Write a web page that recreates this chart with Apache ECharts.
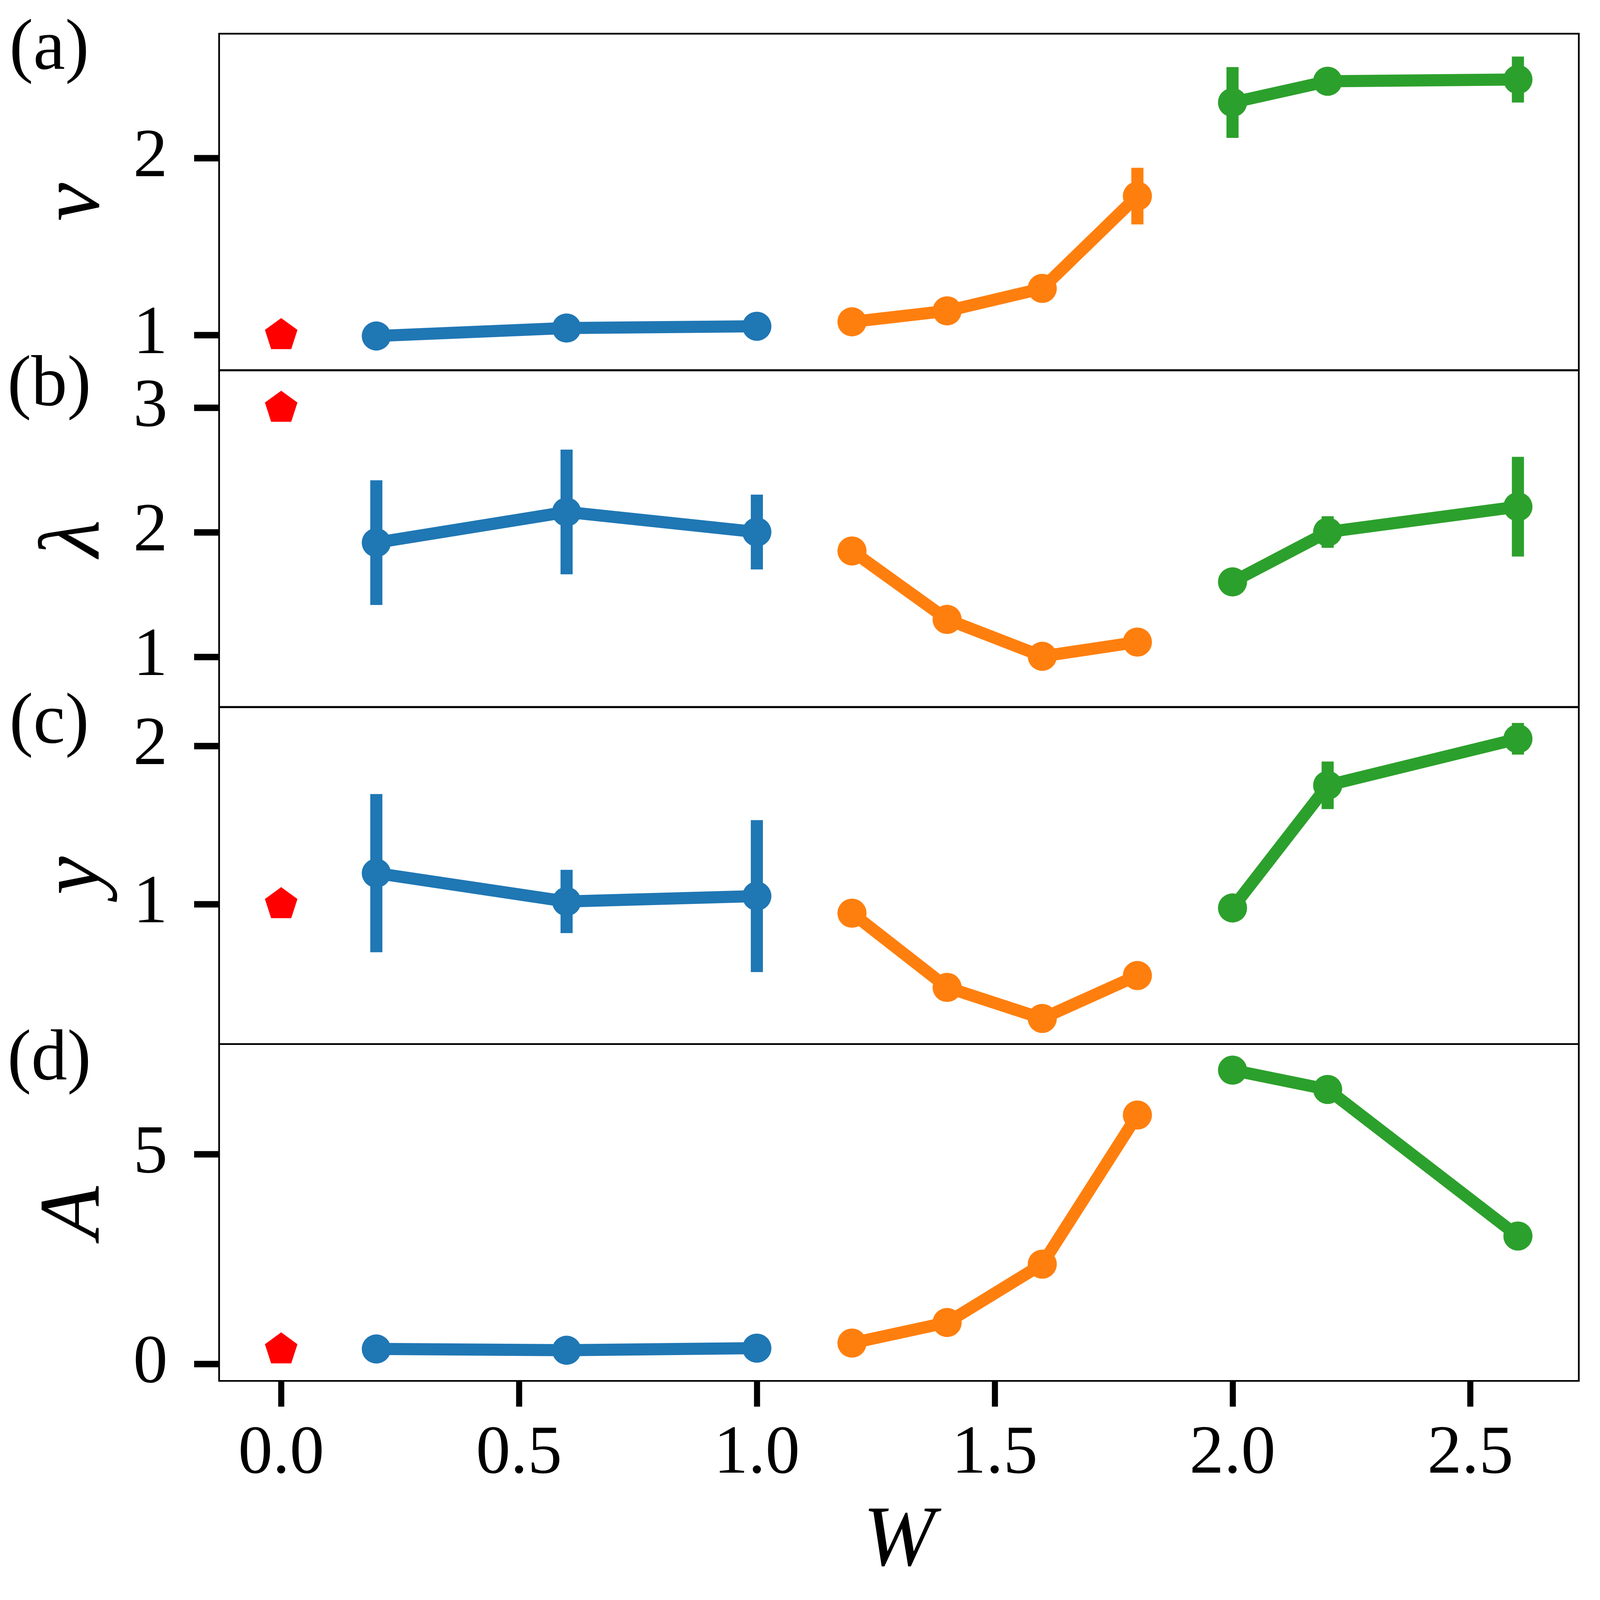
<!DOCTYPE html>
<html>
<head>
<meta charset="utf-8">
<script src="https://cdn.jsdelivr.net/npm/echarts@6.0.0/dist/echarts.min.js"></script>
<style>
  html, body { margin: 0; padding: 0; background: #fff; overflow: hidden; width: 100%; height: 100%; }
  #main { width: 100vw; height: 100vh; }
</style>
</head>
<body>
<div id="main"></div>
<script>
// W positions of each group
var wRef = [0];
var wBlue = [0.2, 0.6, 1.0];
var wOrange = [1.2, 1.4, 1.6, 1.8];
var wGreen = [2.0, 2.2, 2.6];

// (a) nu
var nuRef = [1.0];
var nuBlue = [0.995, 1.04, 1.05];
var nuOrange = [1.075, 1.137, 1.264, 1.786];
var nuGreen = [2.315, 2.435, 2.445];
var nuErrBlue = [0, 0, 0];
var nuErrOrange = [0, 0, 0, 0.16];
var nuErrGreen = [0.2, 0.05, 0.13];

// (b) lambda
var lamRef = [3.0];
var lamBlue = [1.918, 2.164, 2.003];
var lamOrange = [1.851, 1.302, 1.006, 1.12];
var lamGreen = [1.603, 2.003, 2.206];
var lamErrBlue = [0.5, 0.5, 0.3];
var lamErrOrange = [0, 0, 0, 0];
var lamErrGreen = [0, 0.127, 0.4];

// (c) y
var yRef = [1.0];
var yBlue = [1.196, 1.017, 1.051];
var yOrange = [0.943, 0.474, 0.278, 0.549];
var yGreen = [0.976, 1.751, 2.045];
var yErrBlue = [0.5, 0.2, 0.48];
var yErrOrange = [0, 0, 0, 0];
var yErrGreen = [0, 0.15, 0.1];

// (d) A
var aRef = [0.35];
var aBlue = [0.36, 0.33, 0.38];
var aOrange = [0.5, 0.99, 2.38, 5.93];
var aGreen = [7.0, 6.54, 3.05];

// ticks
var xTicks = [0, 0.5, 1.0, 1.5, 2.0, 2.5];
var nuTicks = [1, 2];
var lamTicks = [1, 2, 3];
var yTicks = [1, 2];
var aTicks = [0, 5];

var panelNames = ['ν', 'λ', 'y', 'A'];
var panelTags = ['(a)', '(b)', '(c)', '(d)'];
var yRanges = [[0.80, 2.704], [0.60, 3.302], [0.116, 2.244], [-0.40, 7.62]];
var xRange = [-0.1305, 2.728];

var FONT = '"Liberation Serif", "DejaVu Serif", serif';
var colors = { blue: '#1f77b4', orange: '#ff7f0e', green: '#2ca02c', ref: '#ff0000' };

var panels = [
  { ref: nuRef, blue: nuBlue, orange: nuOrange, green: nuGreen, eb: nuErrBlue, eo: nuErrOrange, eg: nuErrGreen, ticks: nuTicks },
  { ref: lamRef, blue: lamBlue, orange: lamOrange, green: lamGreen, eb: lamErrBlue, eo: lamErrOrange, eg: lamErrGreen, ticks: lamTicks },
  { ref: yRef, blue: yBlue, orange: yOrange, green: yGreen, eb: yErrBlue, eo: yErrOrange, eg: yErrGreen, ticks: yTicks },
  { ref: aRef, blue: aBlue, orange: aOrange, green: aGreen, eb: null, eo: null, eg: null, ticks: aTicks }
];

var el = document.getElementById('main');
// layout was measured on a 4213 x 4228 canvas; scale to the real viewport
var S = Math.min(el.clientWidth / 4213, el.clientHeight / 4228);
function px(v) { return v * S; }

var gridTops = [89, 978, 1869, 2759];
var gridH = 890;

function zip(xs, ys) {
  return xs.map(function (x, i) { return [x, ys[i]]; });
}
function zipErr(xs, ys, es) {
  var out = [];
  xs.forEach(function (x, i) { if (es[i] > 0) out.push([x, ys[i], es[i]]); });
  return out;
}

var pentagon = 'path://M0,-1 L0.9511,-0.309 L0.5878,0.809 L-0.5878,0.809 L-0.9511,-0.309 Z';

var grids = [], xAxes = [], yAxes = [], series = [], graphics = [];

panels.forEach(function (p, i) {
  var last = i === panels.length - 1;
  grids.push({ left: px(579), width: px(3593), top: px(gridTops[i]), height: px(gridH),
    show: true, borderColor: '#000', borderWidth: px(4.5), backgroundColor: 'transparent' });
  xAxes.push({
    type: 'value', gridIndex: i, min: xRange[0], max: xRange[1],
    axisLine: { show: false, onZero: false }, splitLine: { show: false },
    axisTick: { show: last, customValues: xTicks, length: px(68), lineStyle: { color: '#000', width: px(16) } },
    axisLabel: { show: last, customValues: xTicks, margin: px(104), fontSize: px(182), fontFamily: FONT, color: '#000',
      formatter: function (v) { return v.toFixed(1); } },
    name: last ? 'W' : '', nameLocation: 'middle', nameGap: px(313),
    nameTextStyle: { fontSize: px(228), fontStyle: 'italic', fontFamily: FONT, color: '#000' }
  });
  yAxes.push({
    type: 'value', gridIndex: i, min: yRanges[i][0], max: yRanges[i][1],
    axisLine: { show: false, onZero: false }, splitLine: { show: false },
    axisTick: { customValues: p.ticks, length: px(66), lineStyle: { color: '#000', width: px(17) } },
    axisLabel: { customValues: p.ticks, margin: px(136), fontSize: px(182), fontFamily: FONT, color: '#000' },
    name: panelNames[i], nameLocation: 'middle', nameGap: px(265), nameRotate: 90,
    nameTextStyle: { fontSize: px(228), fontStyle: 'italic', fontFamily: FONT, color: '#000' }
  });

  // error bars
  [['blue', p.blue, p.eb, wBlue], ['orange', p.orange, p.eo, wOrange], ['green', p.green, p.eg, wGreen]].forEach(function (g) {
    if (!g[2]) return;
    var col = colors[g[0]];
    series.push({
      type: 'custom', xAxisIndex: i, yAxisIndex: i, silent: true,
      data: zipErr(g[3], g[1], g[2]),
      renderItem: function (params, api) {
        var x = api.value(0), y = api.value(1), e = api.value(2);
        var p1 = api.coord([x, y - e]), p2 = api.coord([x, y + e]);
        return { type: 'line', shape: { x1: p1[0], y1: p1[1], x2: p2[0], y2: p2[1] },
          style: { stroke: col, lineWidth: px(32), lineCap: 'butt' } };
      },
      z: 2
    });
  });

  [['blue', p.blue, wBlue], ['orange', p.orange, wOrange], ['green', p.green, wGreen]].forEach(function (g) {
    series.push({
      type: 'line', xAxisIndex: i, yAxisIndex: i, silent: true,
      data: zip(g[2], g[1]),
      symbol: 'circle', symbolSize: px(77), showAllSymbol: true,
      itemStyle: { color: colors[g[0]], opacity: 1 },
      lineStyle: { color: colors[g[0]], width: px(32) },
      z: 3
    });
  });

  series.push({
    type: 'scatter', xAxisIndex: i, yAxisIndex: i, silent: true,
    data: zip(wRef, p.ref),
    symbol: pentagon, symbolSize: [px(86), px(82)], symbolOffset: [0, -px(4)],
    itemStyle: { color: colors.ref, opacity: 1 },
    z: 3
  });

  graphics.push({
    type: 'text', x: px(130), y: px(gridTops[i] + 43),
    style: { text: panelTags[i], font: px(190) + 'px ' + FONT, fill: '#000', align: 'center', verticalAlign: 'middle' }
  });
});

var chart = echarts.init(el);
chart.setOption({
  animation: false,
  backgroundColor: '#fff',
  grid: grids,
  xAxis: xAxes,
  yAxis: yAxes,
  series: series,
  graphic: graphics
});
</script>
</body>
</html>
